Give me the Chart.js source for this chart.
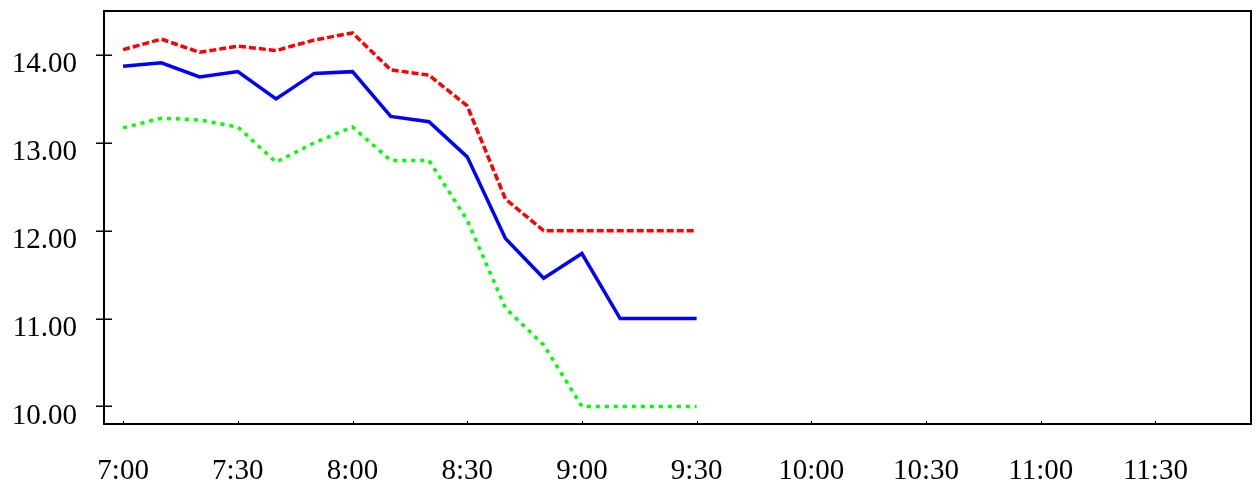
<!DOCTYPE html>
<html>
<head>
<meta charset="utf-8">
<script src="https://cdn.jsdelivr.net/npm/chart.js@4/dist/chart.umd.min.js"></script>
<style>
  html, body { margin: 0; padding: 0; background: #fff; }
  #wrap { width: 1259px; height: 491px; }
</style>
</head>
<body>
<div id="wrap"><canvas id="grafico"></canvas></div>
<script>
const times = ['7:00', '7:10', '7:20', '7:30', '7:40', '7:50', '8:00', '8:10',
               '8:20', '8:30', '8:40', '8:50', '9:00', '9:10', '9:20', '9:30'];
const upper = [14.06, 14.18, 14.03, 14.10, 14.05, 14.17, 14.25, 13.83,
               13.77, 13.42, 12.36, 12.00, 12.00, 12.00, 12.00, 12.00];
const middle = [13.87, 13.91, 13.75, 13.81, 13.50, 13.79, 13.81, 13.30,
                13.24, 12.84, 11.91, 11.46, 11.74, 11.00, 11.00, 11.00];
const lower = [13.17, 13.28, 13.26, 13.18, 12.78, 13.00, 13.18, 12.80,
               12.80, 12.12, 11.12, 10.70, 10.00, 10.00, 10.00, 10.00];
const xTickLabels = ['7:00', '7:30', '8:00', '8:30', '9:00', '9:30', '10:00', '10:30', '11:00', '11:30'];
const yTickValues = [10, 11, 12, 13, 14];

// minutes after 7:00
const toMin = s => {
    const [h, m] = s.split(':').map(Number);
    return (h - 7) * 60 + m;
};
const fmt = v => {
    const h = 7 + Math.floor(v / 60);
    const m = v % 60;
    return h + ':' + String(m).padStart(2, '0');
};
const pts = arr => arr.map((y, i) => ({ x: toMin(times[i]), y: y }));

const frame = {
    id: 'frame',
    afterDraw(chart) {
        const { ctx, chartArea: a, scales } = chart;
        ctx.save();
        ctx.strokeStyle = '#000';
        ctx.lineWidth = 2;
        ctx.strokeRect(a.left, a.top, a.right - a.left, a.bottom - a.top);
        ctx.lineWidth = 1.5;
        ctx.beginPath();
        yTickValues.forEach(v => {
            const y = Math.round(scales.y.getPixelForValue(v)) + 0.25;
            ctx.moveTo(a.left - 8, y);
            ctx.lineTo(a.left + 8, y);
        });
        ctx.stroke();
        ctx.lineWidth = 1;
        ctx.beginPath();
        xTickLabels.forEach(t => {
            const x = Math.round(scales.x.getPixelForValue(toMin(t))) + 0.5;
            ctx.moveTo(x, a.bottom);
            ctx.lineTo(x, a.bottom - 3);
        });
        ctx.stroke();
        ctx.restore();
    }
};

const font = { family: '"Liberation Serif", "Times New Roman", serif', size: 29 };

new Chart(document.getElementById('grafico'), {
    type: 'line',
    data: {
        datasets: [
            { data: pts(lower), borderColor: '#00ff00', borderWidth: 3.5, borderDash: [4, 5] },
            { data: pts(upper), borderColor: '#ff0000', borderWidth: 3.5, borderDash: [7, 3] },
            { data: pts(middle), borderColor: '#0000ff', borderWidth: 3.5 }
        ]
    },
    options: {
        responsive: true,
        maintainAspectRatio: false,
        animation: false,
        events: [],
        layout: { padding: { top: 11, right: 8, bottom: 0, left: 0 } },
        elements: { point: { radius: 0 }, line: { tension: 0, fill: false } },
        plugins: { legend: { display: false }, tooltip: { enabled: false } },
        scales: {
            x: {
                type: 'linear',
                min: -5,
                max: 295,
                afterBuildTicks: s => { s.ticks = xTickLabels.map(t => ({ value: toMin(t) })); },
                afterFit: s => { s.height = 67; s.paddingLeft = 0; s.paddingRight = 0; },
                grid: { display: false, drawTicks: false },
                border: { display: false },
                ticks: { callback: v => fmt(v), font: font, color: '#000', padding: 30, maxRotation: 0, autoSkip: false }
            },
            y: {
                min: 9.8,
                max: 14.5,
                afterBuildTicks: s => { s.ticks = yTickValues.map(v => ({ value: v })); },
                afterFit: s => { s.width = 104; s.paddingTop = 0; s.paddingBottom = 0; },
                grid: { display: false, drawTicks: false },
                border: { display: false },
                ticks: { callback: v => v.toFixed(2), font: font, color: '#000', padding: 27, labelOffset: 9.5 }
            }
        }
    },
    plugins: [frame]
});
</script>
</body>
</html>
